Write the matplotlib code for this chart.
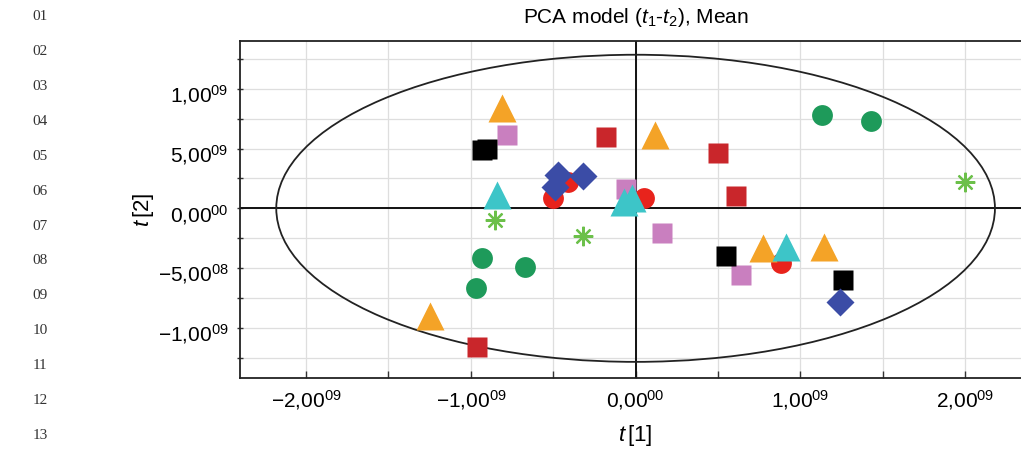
import matplotlib
matplotlib.use("Agg")
import matplotlib.pyplot as plt
from matplotlib.patches import Ellipse
from matplotlib.ticker import FixedLocator, MultipleLocator
from matplotlib.transforms import ScaledTranslation

plt.rcParams['font.family'] = ['Liberation Sans', 'DejaVu Sans']
plt.rcParams['mathtext.fontset'] = 'custom'
plt.rcParams['mathtext.rm'] = 'Liberation Sans'
plt.rcParams['mathtext.it'] = 'Liberation Sans:italic'
plt.rcParams['mathtext.bf'] = 'Liberation Sans:bold'

# ---- data (scores in units of 1e9) ----
orange_tri_x = [-0.81, 0.12, -1.25, 0.77, 1.14]
orange_tri_y = [0.84, 0.615, -0.90, -0.33, -0.32]

cyan_tri_x = [-0.84, -0.07, -0.02, 0.91]
cyan_tri_y = [0.11, 0.05, 0.09, -0.32]

red_circ_x = [-0.50, -0.41, 0.05, 0.88]
red_circ_y = [0.09, 0.22, 0.09, -0.46]

darkred_sq_x = [-0.18, 0.50, 0.61, -0.96]
darkred_sq_y = [0.60, 0.46, 0.10, -1.16]

black_sq_x = [-0.93, -0.90, 0.55, 1.26]
black_sq_y = [0.49, 0.50, -0.40, -0.60]

pink_sq_x = [-0.78, -0.06, 0.16, 0.64]
pink_sq_y = [0.61, 0.16, -0.21, -0.56]

blue_dia_x = [-0.47, -0.49, -0.32, 1.24]
blue_dia_y = [0.28, 0.18, 0.27, -0.78]

green_circ_x = [1.13, 1.43, -0.93, -0.67, -0.97]
green_circ_y = [0.78, 0.73, -0.42, -0.49, -0.67]

green_ast_x = [2.00, -0.85, -0.32]
green_ast_y = [0.22, -0.10, -0.23]

ellipse_a = 2.18   # semi-axis t[1], 1e9
ellipse_b = 1.285  # semi-axis t[2], 1e9

x_ticks = [-2, -1, 0, 1, 2]
x_ticklabels = ['\u22122,00$^{09}$', '\u22121,00$^{09}$', '0,00$^{00}$',
                '1,00$^{09}$', '2,00$^{09}$']
y_ticks = [1, 0.5, 0, -0.5, -1]
y_ticklabels = ['1,00$^{09}$', '5,00$^{09}$', '0,00$^{00}$',
                '\u22125,00$^{08}$', '\u22121,00$^{09}$']

line_numbers = ['01', '02', '03', '04', '05', '06', '07', '08', '09', '10', '11', '12', '13']

# ---- figure ----
W, H = 1021, 449
fig = plt.figure(figsize=(W / 100, H / 100), dpi=100)
ax = fig.add_axes([240 / W, 1 - 378 / H, (W - 240) / W + 0.01, (378 - 41) / H])

ax.set_xlim(-2.40, 2.40)
ax.set_ylim(-1.42, 1.40)

ax.xaxis.set_major_locator(FixedLocator(x_ticks))
ax.xaxis.set_minor_locator(MultipleLocator(0.5))
ax.yaxis.set_major_locator(FixedLocator(y_ticks))
ax.yaxis.set_minor_locator(MultipleLocator(0.25))
ax.set_xticklabels(x_ticklabels)
ax.set_yticklabels(y_ticklabels)
ax.grid(True, which='both', color='#dedede', lw=0.9, zorder=0)
ax.set_axisbelow(True)

ax.tick_params(which='both', direction='in', length=5, width=1, color='#333333',
               labelsize=15, top=False, right=False)
ax.tick_params(axis='y', which='both', direction='inout', length=5, pad=6)
ax.tick_params(axis='x', which='both', pad=7)
for s in ax.spines.values():
    s.set_color('#222222')
    s.set_linewidth(1.3)

ax.axhline(0, color='#111111', lw=1.4, zorder=1)
ax.axvline(0, color='#111111', lw=1.4, zorder=1)

ax.add_patch(Ellipse((0, 0), 2 * ellipse_a, 2 * ellipse_b, fill=False,
                     edgecolor='#222222', lw=1.3, zorder=2))

kw = dict(linestyle='none')
ax.plot(green_circ_x, green_circ_y, marker='o', ms=15, color='#1e9a5a', mec='none', zorder=3, **kw)
ax.plot(green_ast_x, green_ast_y, marker=(8, 2, 0), ms=14, mew=1.6, color='#6cc04a', zorder=3, **kw)
ax.plot(red_circ_x, red_circ_y, marker='o', ms=15, color='#e8231c', mec='none', zorder=3, **kw)
ax.plot(darkred_sq_x, darkred_sq_y, marker='s', ms=15, color='#c9262b', mec='none', zorder=3, **kw)
ax.plot(pink_sq_x, pink_sq_y, marker='s', ms=15, color='#c97fbf', mec='none', zorder=3, **kw)
ax.plot(black_sq_x, black_sq_y, marker='s', ms=15, color='#000000', mec='none', zorder=3, **kw)
ax.plot(orange_tri_x, orange_tri_y, marker='^', ms=19.5, color='#f4a327', mec='none', zorder=3, **kw)
ax.plot(blue_dia_x, blue_dia_y, marker='D', ms=14.3, color='#3b4ca6', mec='none', zorder=3, **kw)
ax.plot(cyan_tri_x, cyan_tri_y, marker='^', ms=19.5, color='#3dc5c8', mec='none', zorder=3, **kw)

ax.set_title('PCA model ($t_1$-$t_2$), Mean', fontsize=15, pad=13)
ax.set_xlabel('$t\\,$[1]', fontsize=16, labelpad=8)
ax.set_ylabel('$t\\,$[2]', fontsize=16, labelpad=1)

offset = ScaledTranslation(0, -4 / 100, fig.dpi_scale_trans)
for lbl in ax.get_yticklabels():
    lbl.set_transform(lbl.get_transform() + offset)

for i, s in enumerate(line_numbers):
    fig.text(40 / W, 1 - (17 + i * 34.85) / H, s, family='Liberation Serif',
             fontsize=11, ha='center', va='center', color='#333333')

fig.savefig('out.png', dpi=100)
